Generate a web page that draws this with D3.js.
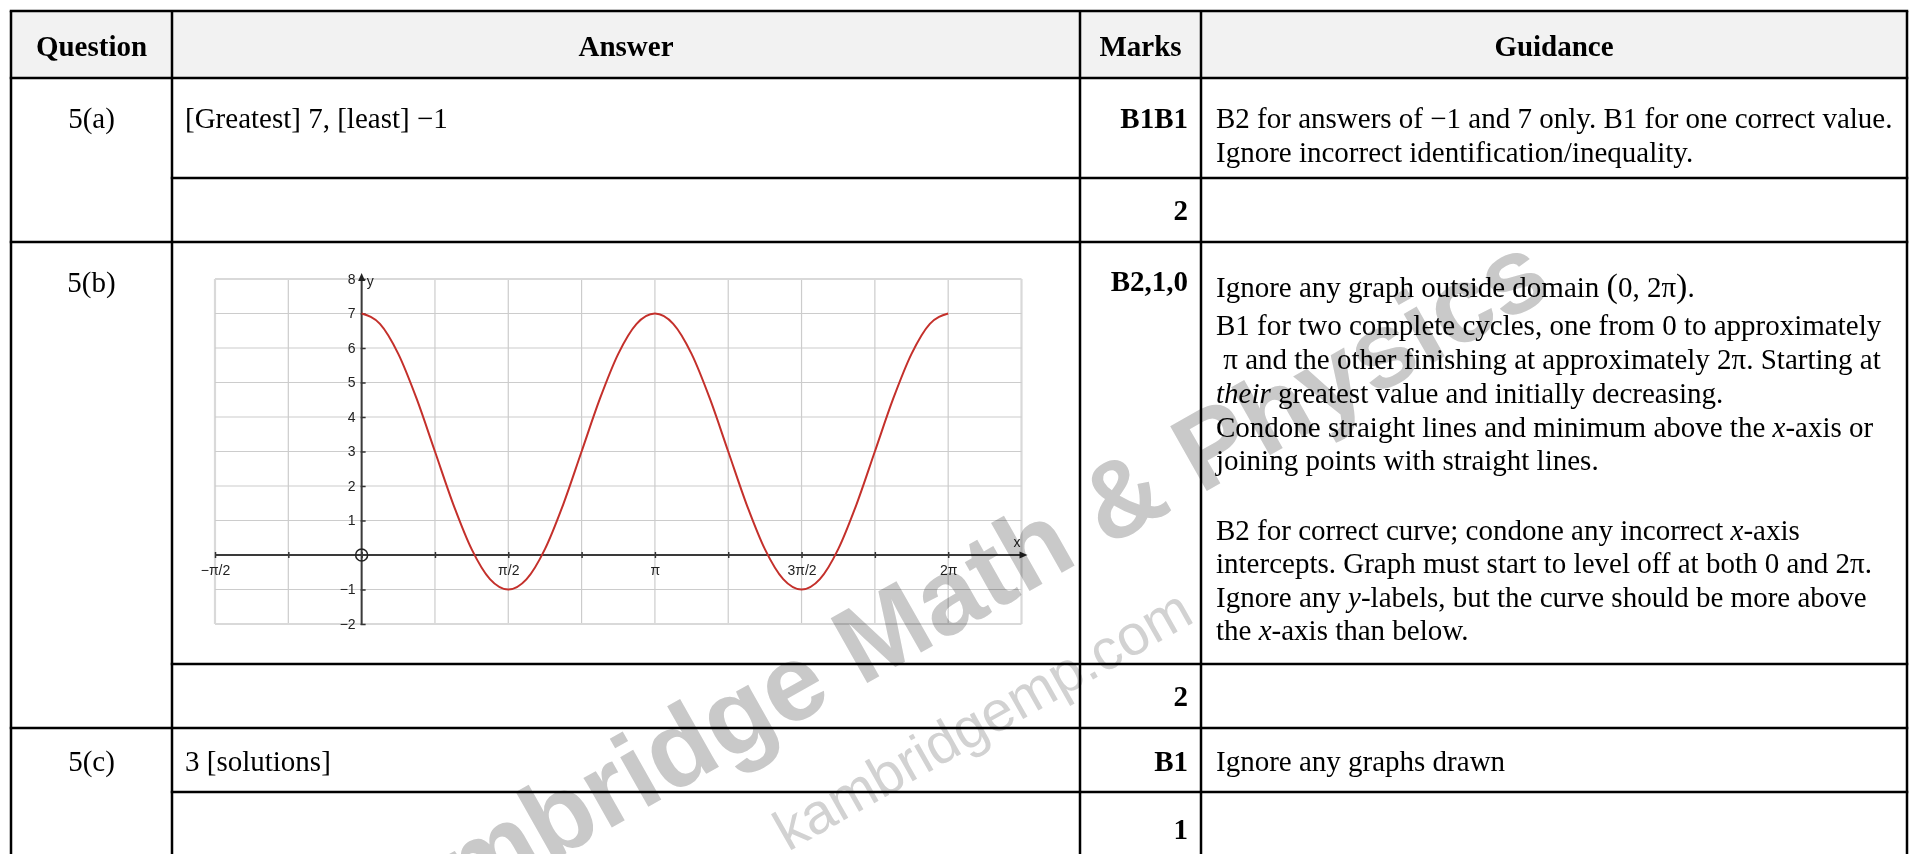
<!DOCTYPE html>
<html><head><meta charset="utf-8">
<script src="https://cdn.jsdelivr.net/npm/d3@7"></script>
<style>
body{margin:0;background:#fff;}
svg{display:block;}
.wm{mix-blend-mode:multiply;}
</style>
</head><body>
<svg id="chart" width="1910" height="854"></svg>
<script>
// ---------- data ----------
const headers = ["Question", "Answer", "Marks", "Guidance"];
const questions = ["5(a)", "5(b)", "5(c)"];
const answers = ["[Greatest] 7, [least] −1", "", "3 [solutions]"];
const marks = ["B1B1", "B2,1,0", "B1"];
const totals = ["2", "2", "1"];
const guidanceA = ["B2 for answers of −1 and 7 only. B1 for one correct value.",
                   "Ignore incorrect identification/inequality."];
const guidanceB = [
  [["Ignore any graph outside domain ", 0], ["(", 2], ["0, 2π", 0], [")", 2], [".", 0]],
  [["B1 for two complete cycles, one from 0 to approximately", 0]],
  [[" π and the other finishing at approximately 2π. Starting at", 0]],
  [["their", 1], [" greatest value and initially decreasing.", 0]],
  [["Condone straight lines and minimum above the ", 0], ["x", 1], ["-axis or", 0]],
  [["joining points with straight lines.", 0]],
  [["B2 for correct curve; condone any incorrect ", 0], ["x", 1], ["-axis", 0]],
  [["intercepts. Graph must start to level off at both 0 and 2π.", 0]],
  [["Ignore any ", 0], ["y", 1], ["-labels, but the curve should be more above", 0]],
  [["the ", 0], ["x", 1], ["-axis than below.", 0]]
];
const guidanceC = ["Ignore any graphs drawn"];

// graph data (x in multiples of pi)
const xGridPi = [-0.5, -0.25, 0, 0.25, 0.5, 0.75, 1, 1.25, 1.5, 1.75, 2, 2.25];
const xLabelPi = [-0.5, 0.5, 1, 1.5, 2];
const xLabelText = ["−π/2", "π/2", "π", "3π/2", "2π"];
const yGrid = [-2, -1, 0, 1, 2, 3, 4, 5, 6, 7, 8];
const yLabelVals = [-2, -1, 1, 2, 3, 4, 5, 6, 7, 8];
const yLabelText = ["−2", "−1", "1", "2", "3", "4", "5", "6", "7", "8"];
// curve points: x in sixteenths of pi
const curveX16 = [0,1,2,3,4,5,6,7,8,9,10,11,12,13,14,15,16,17,18,19,20,21,22,23,24,25,26,27,28,29,30,31,32];
const curveY = [7,6.7,5.83,4.53,3,1.47,0.17,-0.7,-1,-0.7,0.17,1.47,3,4.53,5.83,6.7,7,6.7,5.83,4.53,3,1.47,0.17,-0.7,-1,-0.7,0.17,1.47,3,4.53,5.83,6.7,7];

const watermarkBig = "Kambridge Math & Physics";
const watermarkSmall = "kambridgemp.com";

// ---------- layout ----------
const svg = d3.select("#chart");
const SERIF = "'Liberation Serif','Times New Roman',serif";
const SANS = "'Liberation Sans',Arial,sans-serif";
const FS = 29;
const colX = [11, 172, 1080, 1201, 1907];
const T = {top: 11, head: 78, aSub: 178, aEnd: 242, bSub: 664, bEnd: 728, cSub: 792};

// header background
svg.append("rect").attr("x", colX[0]).attr("y", T.top)
  .attr("width", colX[4] - colX[0]).attr("height", T.head - T.top).attr("fill", "#f2f2f2");

// ---------- graph ----------
const PI = Math.PI;
const x = d3.scaleLinear().domain([-0.5 * PI, 2.25 * PI]).range([215, 1021.5]);
const y = d3.scaleLinear().domain([-2, 8]).range([624, 279]);
const g = svg.append("g");

// grid
g.append("g").selectAll("line").data(xGridPi).join("line")
  .attr("x1", d => x(d * PI)).attr("x2", d => x(d * PI))
  .attr("y1", y(-2)).attr("y2", y(8))
  .attr("stroke", (d, i) => (i === 0 || i === xGridPi.length - 1) ? "#d9d9d9" : "#cccccc")
  .attr("stroke-width", (d, i) => (i === 0 || i === xGridPi.length - 1) ? 2.2 : 1.2);
g.append("g").selectAll("line").data(yGrid).join("line")
  .attr("x1", x(-0.5 * PI)).attr("x2", x(2.25 * PI))
  .attr("y1", d => y(d)).attr("y2", d => y(d))
  .attr("stroke", (d, i) => (i === 0 || i === yGrid.length - 1) ? "#d9d9d9" : "#cccccc")
  .attr("stroke-width", (d, i) => (i === 0 || i === yGrid.length - 1) ? 2.2 : 1.2);

// x axis
const xLabelMap = new Map(xLabelPi.map((v, i) => [v, xLabelText[i]]));
const xAxis = d3.axisBottom(x)
  .tickValues(xGridPi.slice(0, -1).map(d => d * PI))
  .tickSizeInner(3).tickSizeOuter(0).tickPadding(8)
  .tickFormat(d => xLabelMap.get(Math.round(d / PI * 4) / 4) || "");
const xg = g.append("g").attr("transform", `translate(0,${y(0)})`).call(xAxis);
xg.select(".domain").remove();
xg.selectAll(".tick line").attr("y1", -3).attr("y2", 3).attr("stroke", "#333").attr("stroke-width", 1.5);
xg.selectAll(".tick text").attr("font-family", SANS).attr("font-size", 14).attr("fill", "#222").attr("y", 10);
g.append("line").attr("x1", x(-0.5 * PI)).attr("x2", x(2.25 * PI) + 1)
  .attr("y1", y(0)).attr("y2", y(0)).attr("stroke", "#3a3a3a").attr("stroke-width", 2);
g.append("path")
  .attr("d", `M${x(2.25 * PI) + 6},${y(0)} L${x(2.25 * PI) - 2},${y(0) - 3.5} L${x(2.25 * PI) - 2},${y(0) + 3.5} Z`)
  .attr("fill", "#222");

// y axis
const yLabelMap = new Map(yLabelVals.map((v, i) => [v, yLabelText[i]]));
const yAxis = d3.axisLeft(y).tickValues(yLabelVals)
  .tickSizeInner(3).tickSizeOuter(0).tickPadding(4)
  .tickFormat(d => yLabelMap.get(d));
const yg = g.append("g").attr("transform", `translate(${x(0)},0)`).call(yAxis);
yg.select(".domain").remove();
yg.selectAll(".tick line").attr("x1", -1).attr("x2", 4).attr("stroke", "#333").attr("stroke-width", 1.5);
yg.selectAll(".tick text").attr("font-family", SANS).attr("font-size", 14).attr("fill", "#222").attr("x", -6);
g.append("line").attr("x1", x(0)).attr("x2", x(0))
  .attr("y1", y(-2) + 1).attr("y2", y(8) - 1).attr("stroke", "#3a3a3a").attr("stroke-width", 2);
g.append("path")
  .attr("d", `M${x(0)},${y(8) - 6} L${x(0) - 3.5},${y(8) + 2} L${x(0) + 3.5},${y(8) + 2} Z`)
  .attr("fill", "#222");

// axis names
g.append("text").attr("x", x(0) + 5).attr("y", y(8) + 7).text("y")
  .attr("font-family", SANS).attr("font-size", 14).attr("fill", "#222");
g.append("text").attr("x", x(2.25 * PI) - 8).attr("y", y(0) - 8).text("x")
  .attr("font-family", SANS).attr("font-size", 14).attr("fill", "#222");

// origin circle
g.append("circle").attr("cx", x(0)).attr("cy", y(0)).attr("r", 6)
  .attr("fill", "none").attr("stroke", "#222").attr("stroke-width", 1.5);

// curve
const line = d3.line().x(d => x(d[0] / 16 * PI)).y(d => y(d[1])).curve(d3.curveMonotoneX);
g.append("path").datum(curveX16.map((v, i) => [v, curveY[i]]))
  .attr("d", line).attr("fill", "none").attr("stroke", "#c4302b").attr("stroke-width", 2);

// ---------- table lines ----------
const lines = svg.append("g").attr("stroke", "#000").attr("stroke-width", 2.5);
const hl = [[T.top, colX[0]], [T.head, colX[0]], [T.aSub, colX[1]], [T.aEnd, colX[0]],
            [T.bSub, colX[1]], [T.bEnd, colX[0]], [T.cSub, colX[1]]];
hl.forEach(([yy, x0]) => lines.append("line").attr("x1", x0 - 1.25).attr("x2", colX[4] + 1.25).attr("y1", yy).attr("y2", yy));
colX.forEach(xx => lines.append("line").attr("x1", xx).attr("x2", xx).attr("y1", T.top).attr("y2", 860));

// ---------- texts ----------
const tx = svg.append("g").attr("font-family", SERIF).attr("font-size", FS).attr("fill", "#000");
const hx = [(colX[0] + colX[1]) / 2, (colX[1] + colX[2]) / 2, (colX[2] + colX[3]) / 2, (colX[3] + colX[4]) / 2];
headers.forEach((h, i) => tx.append("text").attr("x", hx[i]).attr("y", 56)
  .attr("text-anchor", "middle").attr("font-weight", "bold").text(h));

const rowBase = [128, 292, 771];
const totBase = [220, 706, 839];
questions.forEach((q, i) => {
  tx.append("text").attr("x", hx[0]).attr("y", rowBase[i]).attr("text-anchor", "middle").text(q);
  if (answers[i]) tx.append("text").attr("x", 185).attr("y", rowBase[i]).text(answers[i]);
  tx.append("text").attr("x", 1188).attr("y", i === 1 ? 291 : rowBase[i]).attr("text-anchor", "end").attr("font-weight", "bold").text(marks[i]);
  tx.append("text").attr("x", 1188).attr("y", totBase[i]).attr("text-anchor", "end").attr("font-weight", "bold").text(totals[i]);
});
const GX = 1216;
guidanceA.forEach((s, i) => tx.append("text").attr("x", GX).attr("y", 128 + i * 34).text(s));
const bBase = [297, 335, 369, 403, 437, 470, 540, 573, 607, 640];
guidanceB.forEach((segs, i) => {
  const t = tx.append("text").attr("x", GX).attr("y", bBase[i]).attr("xml:space", "preserve");
  segs.forEach(([s, st]) => {
    const ts = t.append("tspan").text(s);
    if (st === 1) ts.attr("font-style", "italic");
    if (st === 2) ts.attr("font-size", 34);
  });
});
guidanceC.forEach((s, i) => tx.append("text").attr("x", GX).attr("y", 771).text(s));

// ---------- watermark ----------
const wm = svg.append("g").attr("class", "wm").attr("font-family", SANS);
wm.append("text").attr("x", 344).attr("y", 979).attr("text-anchor", "start")
  .attr("transform", "rotate(-29.5,344,979)")
  .attr("font-size", 108).attr("font-weight", "bold").attr("fill", "#c9c9c9").text(watermarkBig);
wm.append("text").attr("x", 788).attr("y", 852).attr("text-anchor", "start")
  .attr("transform", "rotate(-29.5,788,852)")
  .attr("font-size", 57).attr("fill", "#d2d2d2").text(watermarkSmall);
</script>
</body></html>
